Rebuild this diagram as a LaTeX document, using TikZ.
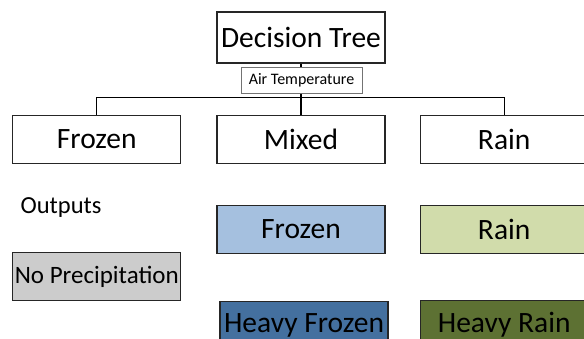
\documentclass[tikz,border=0pt]{standalone}
\usepackage{fontspec}
\setmainfont{Carlito}
\usetikzlibrary{positioning,backgrounds}
\definecolor{frostblue}{HTML}{A5C0DF}
\definecolor{heavyblue}{HTML}{44709F}
\definecolor{rainlight}{HTML}{D1DCAB}
\definecolor{rainheavy}{HTML}{5D7133}
\definecolor{noprecip}{HTML}{CCCCCC}
\newcommand{\bigtext}{\fontsize{29.5}{32}\selectfont}
\tikzset{
  box/.style={draw=black!85, line width=1.2pt, minimum width=168pt, minimum height=48pt, inner sep=0pt, font=\bigtext},
  outbox/.style={box, fill=#1},
  splitlabel/.style={draw=black!55, line width=0.7pt, fill=white, minimum width=121pt, minimum height=26pt, inner sep=0pt, font=\fontsize{16}{18}\selectfont}
}

\begin{document}
\begin{tikzpicture}[node distance=51pt, line width=1.2pt]
    \useasboundingbox (0,0) rectangle (584pt,-339pt);
    \node[box, minimum height=51pt] (tree) at (301pt,-37.5pt) {Decision Tree};
    \node[box] (mixed) [below=of tree] {Mixed};
    \node[box] (frozen) [left=35pt of mixed] {Frozen};
    \node[box] (rain) [right=34pt of mixed] {Rain};

    % bus under the root
    \path (tree.south) ++(0,-34pt) coordinate (bus);
    \draw (tree.south) -- (bus);
    \draw (frozen.north) |- (bus) -| (rain.north);
    \draw (bus) -- (mixed.north);
    \node[splitlabel] (attr) at (301.5pt,-80pt) {Air Temperature};

    \node[font=\fontsize{24.5}{27}\selectfont, anchor=base west, inner sep=0pt] (outputs) at (20pt,-214pt) {Outputs};
    \node[outbox=frostblue] (lightfrozen) [below=41pt of mixed] {Frozen};
    \node[outbox=rainlight] (lightrain) [below=41pt of rain] {Rain};
    \node[outbox=noprecip, font=\fontsize{25}{28}\selectfont] (none) [below=88pt of frozen] {No Precipitation};
    \node[outbox=heavyblue] (heavyfrozen) [below=47pt of lightfrozen, xshift=3pt] {Heavy Frozen};
    \node[outbox=rainheavy] (heavyrain) [below=46pt of lightrain] {Heavy Rain};
\end{tikzpicture}
\end{document}
